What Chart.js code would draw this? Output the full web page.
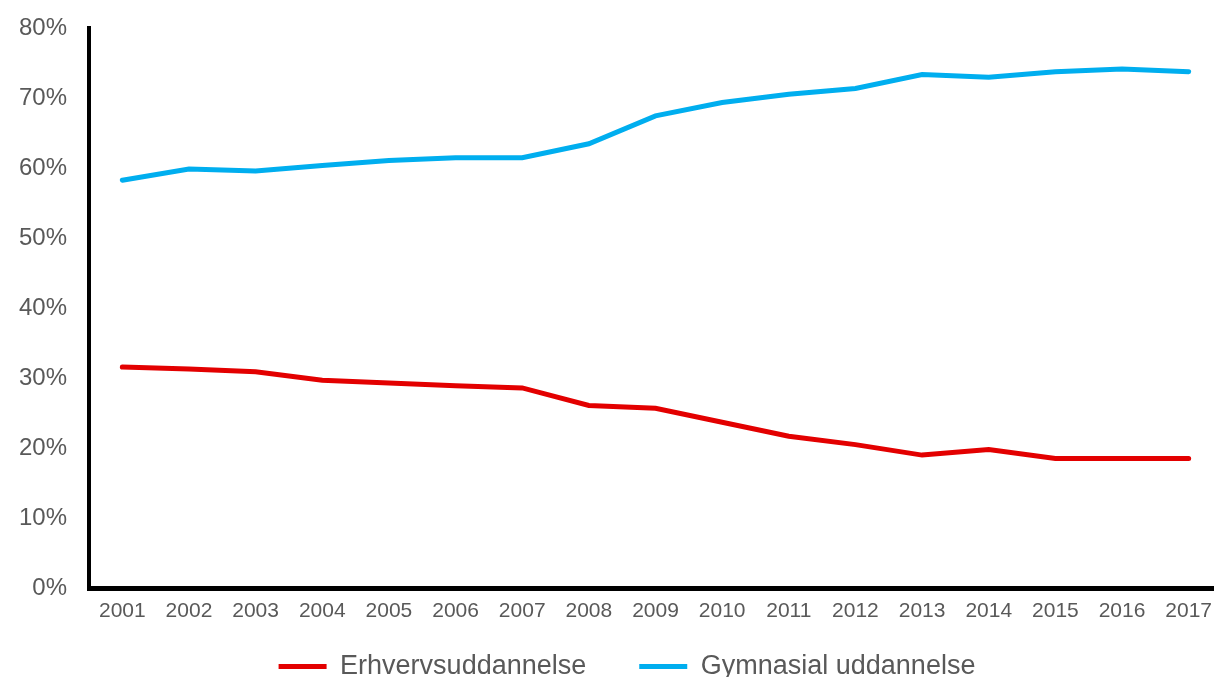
<!DOCTYPE html>
<html>
<head>
<meta charset="utf-8">
<script src="https://cdn.jsdelivr.net/npm/chart.js@4"></script>
<style>
    html, body { margin: 0; padding: 0; background: #fff; overflow: hidden; }
    #wrap { width: 1222px; height: 708px; }
</style>
</head>
<body>
<div id="wrap"><canvas id="lineChart"></canvas></div>
<script>
const years = ['2001', '2002', '2003', '2004', '2005', '2006', '2007', '2008', '2009',
    '2010', '2011', '2012', '2013', '2014', '2015', '2016', '2017'];
const erhverv = [31.6, 31.3, 30.9, 29.7, 29.3, 28.9, 28.6, 26.1, 25.7, 23.7, 21.7, 20.5, 19.0, 19.8, 18.5, 18.5, 18.5];
const gymnasial = [58.3, 59.9, 59.6, 60.4, 61.1, 61.5, 61.5, 63.5, 67.5, 69.4, 70.6, 71.4, 73.4, 73.0, 73.8, 74.2, 73.8];
const yTicks = [0, 10, 20, 30, 40, 50, 60, 70, 80];

const grey = '#595959';
const fontFamily = '"Liberation Sans", Arial, sans-serif';

// nudge the legend a bit right and up, like the original
const legendShift = {
    id: 'legendShift',
    afterLayout(chart) {
        const lg = chart.legend;
        lg.left += 16; lg.right += 16;
        lg.top -= 18; lg.bottom -= 18;
    }
};

var ctx = document.getElementById('lineChart').getContext('2d');
var chart = new Chart(ctx, {
    type: 'line',
    data: {
        labels: years,
        datasets: [{
            label: 'Erhvervsuddannelse',
            data: erhverv,
            borderColor: '#E30000',
            backgroundColor: '#E30000',
            borderWidth: 5,
            borderCapStyle: 'round',
            pointRadius: 0,
            tension: 0
        }, {
            label: 'Gymnasial uddannelse',
            data: gymnasial,
            borderColor: '#00AEEF',
            backgroundColor: '#00AEEF',
            borderWidth: 5,
            borderCapStyle: 'round',
            pointRadius: 0,
            tension: 0
        }]
    },
    options: {
        responsive: true,
        maintainAspectRatio: false,
        animation: false,
        layout: { padding: { top: 26, left: 0, right: 0, bottom: 0 } },
        plugins: {
            tooltip: { enabled: false },
            legend: {
                position: 'bottom',
                labels: {
                    usePointStyle: true,
                    pointStyle: 'line',
                    pointStyleWidth: 48,
                    boxHeight: 5,
                    padding: 53,
                    color: grey,
                    font: { family: fontFamily, size: 27 }
                }
            }
        },
        scales: {
            x: {
                offset: true,
                afterFit: function (scale) { scale.height = 30; },
                grid: { display: false },
                border: { display: true, color: '#000', width: 5 },
                ticks: {
                    color: grey,
                    padding: 3,
                    maxRotation: 0,
                    font: { family: fontFamily, size: 21 }
                }
            },
            y: {
                min: 0,
                max: 80,
                afterFit: function (scale) { scale.width = 89; },
                afterBuildTicks: function (scale) {
                    scale.ticks = yTicks.map(v => ({ value: v }));
                },
                grid: { display: false },
                border: { display: true, color: '#000', width: 4 },
                ticks: {
                    color: grey,
                    padding: 14,
                    font: { family: fontFamily, size: 24 },
                    callback: v => v + '%'
                }
            }
        }
    },
    plugins: [legendShift]
});
</script>
</body>
</html>
